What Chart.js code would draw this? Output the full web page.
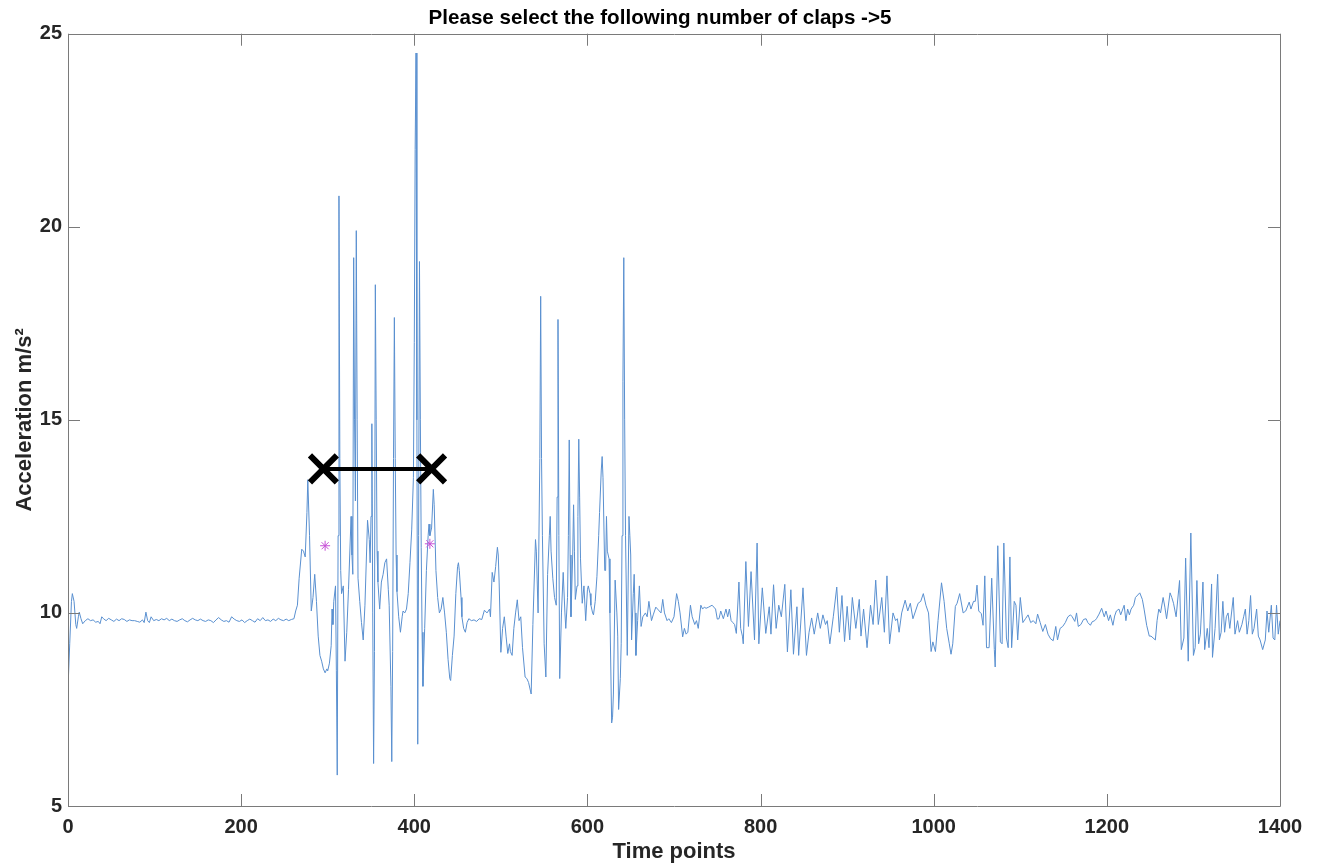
<!DOCTYPE html>
<html>
<head>
<meta charset="utf-8">
<title>Claps</title>
<script src="https://cdn.jsdelivr.net/npm/chart.js@4.4.1/dist/chart.umd.min.js"></script>
<style>
  html, body { margin: 0; padding: 0; background: #fff; }
  #wrap { width: 1318px; height: 868px; }
</style>
</head>
<body>
<div id="wrap"><canvas id="clapChart" width="1318" height="868"></canvas></div>
<script>
// time points (sample index) and acceleration
const timePoints = [
  0,2,4,5,7,9,10,12,13,15,17,20,23,26,29,32,35,37,39,41,44,47,50,53,56,59,62,65,68,71,74,77,80,83,86,88,90,92,94,96,99,
  102,105,108,111,114,117,120,123,126,129,132,135,138,141,144,147,150,153,156,159,162,165,168,171,174,177,180,183,186,189,192,195,198,
  201,204,207,210,213,216,219,222,225,228,231,234,237,240,243,246,249,252,255,258,261,263,265,267,270,272,274,276,277,279,281,283,285,287,289,291,293,295,297,299,
  300,302,304,305,306,307,309,310,311,312,313,314,315,316,318,320,322,324,327,328,329,330,331,332,333,334,335,337,339,341,343,346,348,349,350,351,352,353,354,355,356,357,358,360,362,364,366,368,370,371,373,374,375,376,377,378,379,380,382,384,386,387,389,391,393,395,397,399,
  400,401,402,403,404,405,406,407,408,409,410,412,414,416,417,418,420,422,423,425,427,429,431,433,435,437,439,441,442,444,446,448,450,451,452,454,455,457,459,461,463,466,469,472,475,478,481,484,487,488,490,492,494,496,497,498,
  500,502,504,506,508,510,511,513,515,517,519,521,523,525,528,530,532,535,537,540,541,543,544,545,546,547,548,550,552,554,556,557,558,560,562,564,565,566,567,568,570,572,574,575,577,578,579,580,581,583,584,585,586,588,589,590,591,592,594,596,598,
  600,601,603,604,606,607,609,611,613,614,616,617,618,620,621,622,623,625,626,628,629,630,632,634,635,636,638,639,640,641,642,643,644,646,648,649,650,651,653,654,655,656,658,660,662,664,667,669,671,674,676,679,681,683,685,687,689,692,694,697,
  700,703,705,707,710,712,714,716,719,721,724,726,728,731,733,735,737,740,744,746,748,750,752,754,757,760,762,764,766,768,770,772,775,777,779,780,783,786,789,793,796,798,
  802,806,810,812,815,818,821,824,828,831,835,838,842,844,849,853,856,859,862,866,869,872,875,877,880,884,888,891,894,897,
  900,903,906,910,914,916,919,923,927,930,933,936,940,943,946,949,953,956,958,960,963,967,970,973,976,979,982,985,988,991,994,997,999,
  1002,1005,1009,1012,1015,1018,1020,1022,1025,1027,1030,1034,1037,1041,1043,1046,1048,1050,1052,1055,1057,1059,1061,1064,1067,1070,1071,1074,1077,1079,1081,1084,1086,1088,1090,1093,1095,1097,
  1100,1103,1106,1109,1112,1115,1118,1120,1123,1126,1129,1132,1135,1138,1141,1143,1146,1149,1152,1155,1158,1160,1163,1165,1167,1170,1173,1176,1178,1181,1183,1186,1188,1191,1194,1197,1199,
  1202,1204,1207,1209,1211,1214,1216,1220,1222,1224,1226,1228,1231,1233,1238,1241,1243,1246,1249,1251,1256,1258,1260,1262,1265,1267,1269,1273,1275,1277,1280,1284,1286,1289,1291,1294,1297,
  1300,1302,1304,1306,1308,1311,1313,1316,1318,1321,1322,1325,1328,1330,1332,1334,1336,1338,1340,1342,1346,1348,1351,1353,1356,1358,1360,1362,1364,1366,1368,1370,1373,1375,1377,1380,1383,1385,1387,1390,1392,1394,1396,1398,1400
];
const acceleration = [
  8.05,9.2,10.3,10.5,10.3,9.7,9.6,9.9,10.02,9.85,9.72,9.8,9.85,9.8,9.82,9.76,9.78,9.72,9.9,9.85,9.8,9.86,9.82,9.78,9.84,9.8,9.85,9.83,9.78,9.82,9.8,9.8,9.78,9.76,9.82,9.75,10.02,9.8,9.75,9.9,9.8,
  9.83,9.8,9.85,9.82,9.86,9.8,9.84,9.8,9.78,9.82,9.85,9.8,9.77,9.82,9.86,9.82,9.8,9.84,9.8,9.78,9.82,9.8,9.75,9.82,9.88,9.82,9.78,9.8,9.76,9.9,9.84,9.8,9.78,
  9.82,9.75,9.8,9.84,9.8,9.76,9.85,9.8,9.88,9.8,9.82,9.78,9.84,9.8,9.86,9.82,9.8,9.84,9.8,9.83,9.85,10.05,10.2,10.9,11.65,11.6,11.45,12.6,13.45,12.0,10.05,10.4,11.0,10.3,9.4,8.9,8.75,8.55,8.45,8.55,
  8.5,8.7,9.15,10.1,9.7,10.3,10.7,8.5,5.8,12.0,20.8,14.0,11.1,10.5,10.7,8.75,9.5,10.6,12.5,11.5,11.0,19.2,15.0,12.9,19.9,15.0,10.9,10.3,9.75,9.3,10.2,12.4,11.9,11.3,12.5,14.9,10.0,6.1,9.0,18.5,15.0,11.6,10.8,10.1,10.8,11.0,11.3,11.4,10.6,10.2,8.1,6.15,9.0,14.0,17.65,14.0,11.5,10.55,9.9,9.5,9.9,10.05,10.0,10.1,10.5,11.3,12.15,13.5,
  17.0,22.0,24.5,15.0,6.6,12.0,19.1,15.0,11.7,9.5,8.1,9.6,11.1,12.0,12.3,12.0,12.2,13.2,12.8,11.1,10.4,10.0,10.1,10.4,10.0,9.5,8.8,8.3,8.25,8.9,9.4,10.5,11.2,11.3,11.1,10.4,9.9,9.6,9.5,9.75,9.85,9.8,9.82,9.78,9.85,9.83,10.07,10.0,10.1,9.9,11.05,10.8,11.2,11.7,11.5,10.8,
  8.98,9.6,9.9,9.4,8.95,9.2,9.0,8.9,9.6,10.0,10.34,9.8,9.9,9.1,8.34,8.3,8.2,7.9,9.7,11.9,11.6,10.0,10.0,14.0,18.2,14.0,12.0,9.2,8.34,11.0,12.0,12.5,11.6,10.9,10.4,10.2,13.0,17.6,12.0,8.3,10.0,11.05,10.0,9.6,10.4,12.0,14.48,11.5,9.9,11.5,12.8,11.6,10.35,10.7,12.5,14.5,13.0,11.4,10.25,10.7,9.8,
  10.6,10.7,10.5,10.2,10.0,9.95,10.3,10.95,12.0,12.6,13.7,14.05,13.5,11.1,11.1,12.5,11.6,11.4,10.0,7.15,7.3,7.9,10.85,10.0,9.4,7.5,8.3,9.2,12.0,16.0,19.2,15.0,12.0,8.9,12.5,12.0,11.5,9.3,10.5,11.0,10.0,8.9,9.8,10.7,9.65,9.9,10.0,9.9,10.3,9.8,9.95,10.15,10.1,10.05,10.0,10.35,10.0,9.8,9.85,9.75,
  9.9,10.5,10.3,10.0,9.38,9.6,9.45,9.5,10.2,9.9,9.7,9.8,9.6,10.2,10.1,10.15,10.12,10.15,10.2,10.15,10.1,9.84,9.85,10.05,9.85,10.1,9.9,10.1,9.8,9.75,9.7,9.47,10.8,9.6,9.4,9.2,11.33,9.65,11.07,9.3,11.81,9.2,
  10.65,9.47,10.16,9.45,10.73,9.6,10.2,9.9,10.74,8.99,10.6,8.93,10.16,8.9,10.65,8.9,9.5,9.87,9.45,10.0,9.6,9.95,9.7,9.8,9.2,9.9,10.67,9.5,10.45,9.26,
  10.17,9.3,10.4,9.6,10.35,9.4,10.1,9.1,10.2,9.7,10.85,9.7,10.4,9.5,10.96,9.2,10.0,9.8,9.85,9.5,10.0,10.33,10.05,10.25,9.85,10.05,10.25,10.3,10.5,10.2,10.0,9.0,9.25,
  9.0,9.8,10.78,10.3,9.6,9.2,8.93,9.2,10.17,10.25,10.5,10.0,10.05,10.28,10.1,10.3,10.3,10.72,10.05,9.98,9.68,10.96,9.1,9.1,10.9,9.05,8.6,11.74,9.25,9.2,11.81,9.35,9.1,11.45,9.1,10.3,10.2,9.3,
  10.4,9.75,9.85,9.95,9.75,9.8,9.72,9.97,9.75,9.52,9.7,9.45,9.33,9.28,9.65,9.3,9.6,9.65,9.75,9.9,9.95,9.9,9.78,10.0,9.65,9.7,9.83,9.85,9.75,9.68,9.77,9.8,9.85,9.97,10.12,9.9,10.05,
  9.8,9.95,9.68,9.92,10.05,10.1,9.95,10.2,9.8,10.1,9.95,10.1,10.2,10.4,10.52,10.35,10.1,9.68,9.4,9.4,9.3,9.8,10.1,10.0,10.4,10.15,9.85,10.52,10.4,10.25,9.9,10.84,9.05,9.35,11.42,8.75,12.07,
  8.9,9.1,10.84,9.2,9.45,10.8,9.05,9.6,9.1,10.75,8.85,9.6,11.0,9.3,9.5,10.3,9.5,9.9,10.0,9.6,10.4,9.45,9.8,9.5,9.7,9.9,10.1,9.45,9.8,10.45,9.45,9.6,10.1,9.4,9.3,9.05,9.3,10.05,9.5,10.2,9.35,9.3,10.2,9.45,9.8
];

// selected clap window (black crosses) and the detected peaks (stars)
const windowTimes = [295, 420];
const windowLevel = [13.73, 13.73];
const peakTimes = [297, 418];
const peakValues = [11.74, 11.79];

const xTicks = [0, 200, 400, 600, 800, 1000, 1200, 1400];
const yTicks = [5, 10, 15, 20, 25];

const textColor = '#262626';
const boxColor = '#7a7a7a';
const fontFam = '"Liberation Sans", Arial, Helvetica, sans-serif';

const signal = timePoints.map((t, i) => ({ x: t, y: acceleration[i] }));
const windowPts = windowTimes.map((t, i) => ({ x: t, y: windowLevel[i] }));
const peakPts = peakTimes.map((t, i) => ({ x: t, y: peakValues[i] }));

// matlab style box with inward ticks on all four sides
const matlabBox = {
  id: 'matlabBox',
  afterDatasetsDraw(chart) {
    const { ctx, chartArea: a, scales } = chart;
    const len = 12;
    ctx.save();
    ctx.strokeStyle = boxColor;
    ctx.lineWidth = 1;
    ctx.beginPath();
    ctx.rect(Math.round(a.left) + 0.5, Math.round(a.top) + 0.5,
             Math.round(a.right - a.left), Math.round(a.bottom - a.top));
    xTicks.forEach(v => {
      const px = Math.round(scales.x.getPixelForValue(v)) + 0.5;
      ctx.moveTo(px, a.bottom); ctx.lineTo(px, a.bottom - len);
      ctx.moveTo(px, a.top); ctx.lineTo(px, a.top + len);
    });
    yTicks.forEach(v => {
      const py = Math.round(scales.y.getPixelForValue(v)) + 0.5;
      ctx.moveTo(a.left, py); ctx.lineTo(a.left + len, py);
      ctx.moveTo(a.right, py); ctx.lineTo(a.right - len, py);
    });
    ctx.stroke();
    ctx.restore();
  }
};

const ctx = document.getElementById('clapChart').getContext('2d');
new Chart(ctx, {
  type: 'line',
  data: {
    datasets: [
      {
        label: 'peaks',
        data: peakPts,
        showLine: false,
        pointStyle: 'star',
        pointRadius: 5,
        pointBorderColor: '#c64fd6',
        pointBorderWidth: 1,
        pointBackgroundColor: 'transparent',
        order: 0
      },
      {
        label: 'window',
        data: windowPts,
        borderColor: '#000',
        borderWidth: 4,
        pointStyle: 'crossRot',
        pointRadius: 19,
        pointBorderColor: '#000',
        pointBorderWidth: 6,
        order: 1
      },
      {
        label: 'acceleration',
        data: signal,
        borderColor: '#5a90d0',
        borderWidth: 1,
        pointRadius: 0,
        tension: 0,
        order: 2
      }
    ]
  },
  options: {
    responsive: false,
    animation: false,
    devicePixelRatio: 1,
    layout: { padding: { left: 40, right: 38, top: 0, bottom: 0 } },
    plugins: {
      legend: { display: false },
      tooltip: { enabled: false },
      title: {
        display: true,
        text: 'Please select the following number of claps ->5',
        color: '#000',
        font: { family: fontFam, size: 20.6, weight: 'bold' },
        padding: { top: 6, bottom: 3 }
      }
    },
    scales: {
      x: {
        type: 'linear',
        min: 0,
        max: 1400,
        afterBuildTicks: s => { s.ticks = xTicks.map(v => ({ value: v })); },
        afterFit: s => { s.height = 62; },
        grid: { display: false, drawTicks: false },
        border: { display: false },
        ticks: { color: textColor, padding: 9, maxRotation: 0,
                 callback: v => String(v),
                 font: { family: fontFam, size: 20, weight: 'bold' } },
        title: { display: true, text: 'Time points', color: textColor,
                 font: { family: fontFam, size: 22, weight: 'bold' },
                 padding: { top: 0, bottom: 3 } }
      },
      y: {
        type: 'linear',
        min: 5,
        max: 25,
        afterBuildTicks: s => { s.ticks = yTicks.map(v => ({ value: v })); },
        afterFit: s => { s.width = 28; },
        grid: { display: false, drawTicks: false },
        border: { display: false },
        ticks: { color: textColor, padding: 6,
                 callback: v => String(v),
                 font: { family: fontFam, size: 20, weight: 'bold' } },
        title: { display: true, text: 'Acceleration m/s²', color: textColor,
                 font: { family: fontFam, size: 22, weight: 'bold' },
                 padding: { top: -28, bottom: 0 } }
      }
    }
  },
  plugins: [matlabBox]
});
</script>
</body>
</html>
